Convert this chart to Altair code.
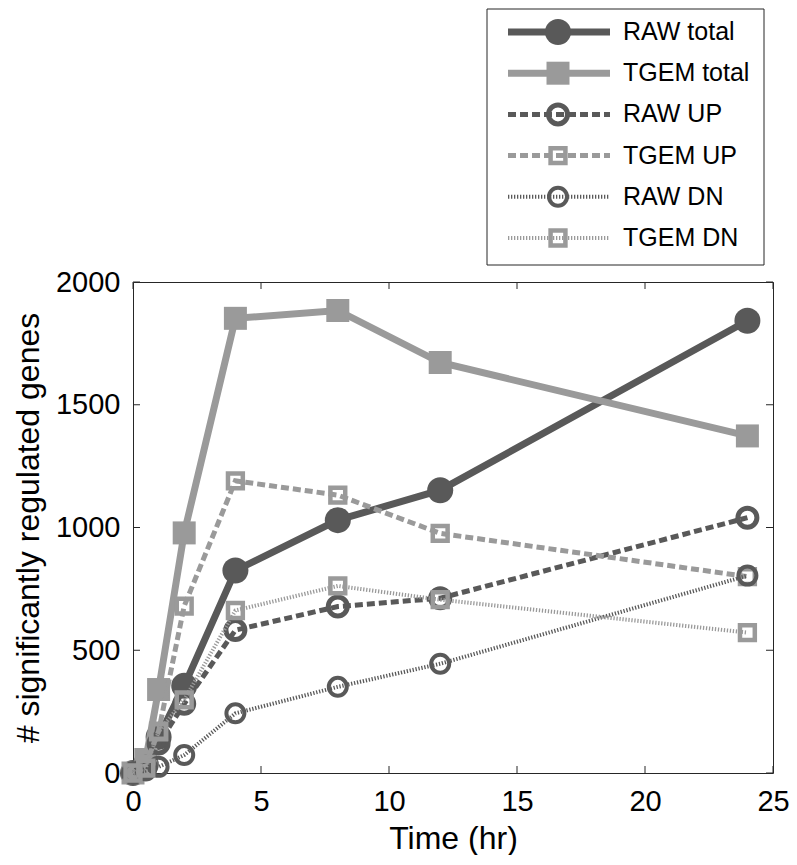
import altair as alt
import pandas as pd

# ---------------- data ----------------
times = [0, 0.5, 1, 2, 4, 8, 12, 24]
series_names = ["RAW total", "TGEM total", "RAW UP", "TGEM UP", "RAW DN", "TGEM DN"]
raw_total = [0, 35, 147, 355, 825, 1030, 1152, 1842]
tgem_total = [0, 55, 340, 978, 1852, 1884, 1672, 1373]
raw_up = [0, 25, 120, 282, 582, 678, 712, 1040]
tgem_up = [0, 35, 170, 680, 1190, 1132, 976, 800]
raw_dn = [0, 10, 25, 73, 243, 351, 445, 804]
tgem_dn = [0, 20, 168, 298, 662, 762, 706, 572]
x_ticks = [0, 5, 10, 15, 20, 25]
y_ticks = [0, 500, 1000, 1500, 2000]

values = {
    "RAW total": raw_total,
    "TGEM total": tgem_total,
    "RAW UP": raw_up,
    "TGEM UP": tgem_up,
    "RAW DN": raw_dn,
    "TGEM DN": tgem_dn,
}

# ---------------- styles ----------------
DARK = "#595959"
LIGHT = "#9a9a9a"
FRAME = "#262626"
FONT = "Liberation Sans"
W, H = 640, 491

styles = {
    "RAW total": dict(color=DARK, width=7, dash=None, shape="circle", filled=True, size=676, sw=1),
    "TGEM total": dict(color=LIGHT, width=7, dash=None, shape="square", filled=True, size=529, sw=1),
    "RAW UP": dict(color=DARK, width=5, dash=[8, 4], shape="circle", filled=False, size=361, sw=5),
    "TGEM UP": dict(color=LIGHT, width=5, dash=[8, 4], shape="square", filled=False, size=220, sw=4.5),
    "RAW DN": dict(color=DARK, width=4, dash=[1.3, 1.7], shape="circle", filled=False, size=324, sw=4),
    "TGEM DN": dict(color=LIGHT, width=4, dash=[1.3, 1.7], shape="square", filled=False, size=220, sw=4.5),
}

X_SCALE = alt.Scale(domain=[0, 25], nice=False, zero=False)
Y_SCALE = alt.Scale(domain=[0, 2000], nice=False)
X_AXIS = alt.Axis(values=x_ticks, title="Time (hr)", format="d", labelFlush=False)
Y_AXIS = alt.Axis(values=y_ticks, title="# significantly regulated genes", format="d", labelFlush=False)


def xe():
    return alt.X("t:Q", scale=X_SCALE, axis=X_AXIS)


def ye():
    return alt.Y("v:Q", scale=Y_SCALE, axis=Y_AXIS)


main_layers = []
for s in series_names:
    st = styles[s]
    df = pd.DataFrame({"t": times, "v": values[s]})
    lkw = dict(color=st["color"], strokeWidth=st["width"])
    if st["dash"] is not None:
        lkw["strokeDash"] = st["dash"]
    main_layers.append(alt.Chart(df).mark_line(**lkw).encode(x=xe(), y=ye()))
    pkw = dict(shape=st["shape"], filled=st["filled"], size=st["size"], opacity=1,
               strokeWidth=st["sw"], color=st["color"])
    main_layers.append(alt.Chart(df).mark_point(**pkw).encode(x=xe(), y=ye()))

# inward ticks on all four sides
xt = pd.DataFrame({"t": x_ticks})
yt = pd.DataFrame({"v": y_ticks})
tick_layers = [
    alt.Chart(xt).mark_rule(color=FRAME, strokeWidth=1).encode(x=xe(), y=alt.value(H), y2=alt.value(H - 7)),
    alt.Chart(xt).mark_rule(color=FRAME, strokeWidth=1).encode(x=xe(), y=alt.value(0), y2=alt.value(7)),
    alt.Chart(yt).mark_rule(color=FRAME, strokeWidth=1).encode(y=ye(), x=alt.value(0), x2=alt.value(7)),
    alt.Chart(yt).mark_rule(color=FRAME, strokeWidth=1).encode(y=ye(), x=alt.value(W), x2=alt.value(W - 7)),
]

main = alt.layer(*(tick_layers + main_layers))

# ---------------- legend ----------------
LS = alt.Scale(domain=[0, 5], range=[-250, -44], nice=False, zero=False)
leg_df = pd.DataFrame({"row": list(range(len(series_names))), "series": series_names})

legend_layers = [
    alt.Chart(pd.DataFrame({"a": [0]})).mark_rect(fill="white", stroke=FRAME, strokeWidth=1).encode(
        x=alt.value(354), x2=alt.value(631), y=alt.value(-273), y2=alt.value(-17)
    )
]
for i, s in enumerate(series_names):
    st = styles[s]
    d = pd.DataFrame({"row": [i]})
    rkw = dict(color=st["color"], strokeWidth=st["width"])
    if st["dash"] is not None:
        rkw["strokeDash"] = st["dash"]
    legend_layers.append(
        alt.Chart(d).mark_rule(**rkw).encode(
            x=alt.value(375), x2=alt.value(477), y=alt.Y("row:Q", scale=LS, axis=None)
        )
    )
    pkw = dict(shape=st["shape"], filled=st["filled"], size=st["size"], opacity=1,
               strokeWidth=st["sw"], color=st["color"])
    legend_layers.append(
        alt.Chart(d).mark_point(**pkw).encode(x=alt.value(425), y=alt.Y("row:Q", scale=LS, axis=None))
    )
legend_layers.append(
    alt.Chart(leg_df).mark_text(align="left", baseline="middle", fontSize=25, font=FONT, color="black").encode(
        x=alt.value(490), y=alt.Y("row:Q", scale=LS, axis=None), text="series:N"
    )
)
legend = alt.layer(*legend_layers)

chart = (
    alt.layer(main, legend)
    .resolve_scale(y="independent")
    .properties(
        width=W,
        height=H,
        autosize=alt.AutoSizeParams(type="none"),
        padding={"left": 125, "top": 274, "right": 16, "bottom": 82},
        background="white",
    )
    .configure_view(stroke=FRAME, strokeWidth=1)
    .configure_axis(
        grid=False,
        ticks=False,
        domain=False,
        labelFont=FONT,
        labelFontSize=29,
        labelColor="black",
        titleFont=FONT,
        titleFontSize=32,
        titleFontWeight="normal",
        titleColor="black",
    )
    .configure_axisX(labelPadding=14, titlePadding=7)
    .configure_axisY(labelPadding=13, titlePadding=10)
)

chart.save("out.html", embed_options={"renderer": "svg", "actions": False})
